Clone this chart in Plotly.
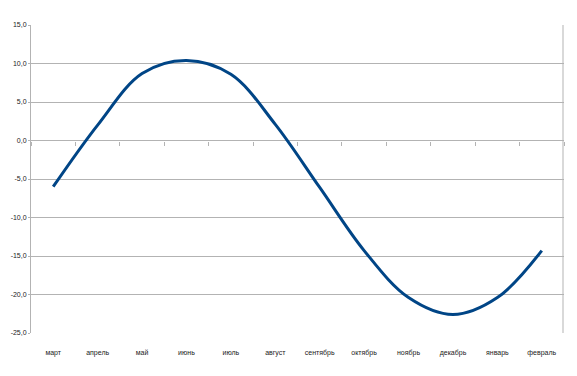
import plotly.graph_objects as go

months = ["март", "апрель", "май", "июнь", "июль", "август",
          "сентябрь", "октябрь", "ноябрь", "декабрь", "январь", "февраль"]
values = [-6.0, 2.0, 8.7, 10.4, 8.6, 2.1, -6.1, -14.3, -20.4, -22.6, -20.4, -14.3]
y_tick_vals = [15, 10, 5, 0, -5, -10, -15, -20, -25]
y_tick_labels = ["15,0", "10,0", "5,0", "0,0", "-5,0", "-10,0", "-15,0", "-20,0", "-25,0"]

y_min, y_max = -25, 15
grid = "#b3b3b3"
font = dict(family="Liberation Sans, Arial, sans-serif", size=7, color="#222")

fig = go.Figure()
fig.add_trace(go.Scatter(
    x=months, y=values, mode="lines",
    line=dict(color="#004586", width=3, shape="spline", smoothing=1.0),
    xaxis="x", yaxis="y", showlegend=False, hoverinfo="skip",
))
# invisible trace to give the label axis its categories
fig.add_trace(go.Scatter(
    x=months, y=values, mode="lines", line=dict(width=0, color="rgba(0,0,0,0)"),
    xaxis="x2", yaxis="y", showlegend=False, hoverinfo="skip",
))

zero_pos = (0 - y_min) / (y_max - y_min)
plot_w = 577 - 31 - 13

fig.update_layout(
    width=577, height=376,
    margin=dict(l=31, r=13, t=25, b=43, autoexpand=False),
    paper_bgcolor="white", plot_bgcolor="white",
    font=font,
    xaxis=dict(
        type="category", categoryorder="array", categoryarray=months,
        range=[-0.5, len(months) - 0.5],
        anchor="free", position=zero_pos, automargin=False,
        showgrid=False, zeroline=False, showline=False,
        showticklabels=False,
        ticks="outside", tickson="boundaries", ticklen=4, tickcolor=grid, tickwidth=1,
    ),
    xaxis2=dict(
        type="category", categoryorder="array", categoryarray=months,
        range=[-0.5, len(months) - 0.5],
        overlaying="x", anchor="y", side="bottom", automargin=False,
        showgrid=False, zeroline=False, showline=False,
        ticks="outside", ticklen=13, tickcolor="rgba(0,0,0,0)",
        tickfont=font,
    ),
    yaxis=dict(
        range=[y_min, y_max], automargin=False, anchor="x2",
        tickvals=y_tick_vals, ticktext=y_tick_labels,
        showgrid=True, gridcolor=grid, gridwidth=1,
        zeroline=False,
        showline=True, linecolor=grid, linewidth=1,
        ticks="outside", ticklen=2, tickcolor=grid,
        tickfont=font,
    ),
    shapes=[dict(
        type="line", xref="paper", yref="paper",
        x0=1 - 1.0 / plot_w, x1=1 - 1.0 / plot_w, y0=0, y1=1,
        line=dict(color=grid, width=1), layer="above",
    )],
)

fig.write_html(
    "out.html",
    config={"displayModeBar": False},
    post_script="document.body.style.margin='0';document.body.style.overflow='hidden';",
)
